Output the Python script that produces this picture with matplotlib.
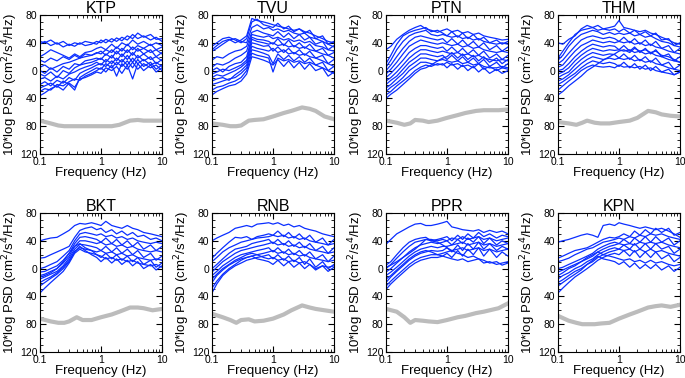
import numpy as np
import matplotlib
matplotlib.use('Agg')
import matplotlib.pyplot as plt
from matplotlib.ticker import FixedLocator, FuncFormatter, LogLocator, NullFormatter

plt.rcParams['font.family'] = ['Liberation Sans', 'DejaVu Sans']

stations = ['KTP', 'TVU', 'PTN', 'THM', 'BKT', 'RNB', 'PPR', 'KPN']

freq = [0.1, 0.12, 0.15, 0.19, 0.24, 0.3, 0.37, 0.45, 0.55, 0.7, 0.85, 1,
        1.2, 1.5, 1.8, 2.2, 2.7, 3.3, 4, 5, 6.5, 8, 10]
# frequencies (Hz) of the noise curve
noise_freq = [0.1, 0.15, 0.2, 0.25, 0.3, 0.4, 0.5, 0.7, 1, 1.5, 2, 3, 4, 5, 7, 10]

ktp = [
    [42, 40, 44, 38, 42, 36, 40, 38, 42, 40, 38, 44, 40, 46, 42, 48, 44, 52, 46, 50, 44, 48, 42],
    [38, 42, 36, 40, 34, 38, 35, 40, 36, 38, 42, 40, 45, 41, 47, 43, 50, 46, 54, 48, 52, 45, 46],
    [20, 24, 30, 26, 22, 18, 24, 20, 26, 28, 32, 34, 30, 38, 32, 40, 36, 44, 38, 42, 36, 40, 36],
    [15, 12, 18, 14, 20, 16, 22, 18, 24, 22, 26, 24, 30, 26, 34, 28, 38, 30, 36, 32, 38, 30, 34],
    [5, 8, 2, 6, 10, 12, 15, 18, 20, 22, 25, 28, 22, 30, 24, 32, 26, 34, 28, 32, 26, 30, 24],
    [0, -4, 4, -2, 6, 2, 10, 8, 14, 16, 18, 16, 24, 18, 28, 20, 30, 22, 32, 24, 30, 20, 26],
    [-5, -8, -2, -10, 0, -4, 4, 8, 10, 12, 15, 18, 12, 22, 14, 24, 16, 26, 18, 24, 16, 20, 14],
    [-12, -10, -15, -8, -12, -5, -2, 2, 5, 8, 12, 8, 16, 10, 18, 12, 22, 12, 22, 14, 20, 10, 16],
    [-20, -16, -22, -14, -18, -10, -14, -4, 0, 4, 8, 10, 6, 14, 8, 16, 8, 18, 10, 16, 8, 12, 6],
    [-25, -22, -18, -24, -15, -20, -28, -10, -5, 0, 4, 2, 10, 4, 12, 6, 14, 4, 16, 6, 12, 2, 8],
    [-30, -26, -28, -20, -22, -16, -12, -14, -8, -4, 0, 4, -2, 8, -8, 10, 2, 12, 2, 10, 4, 8, 0],
    [-36, -32, -26, -22, -28, -18, -24, -12, -10, -6, -2, -4, 4, 0, 6, -4, 8, -12, 10, 0, 8, -2, 4],
]
tvu = [
    [30, 36, 42, 45, 40, 44, 50, 75, 72, 70, 68, 66, 64, 62, 60, 58, 60, 56, 54, 50, 46, 42, 40],
    [35, 40, 46, 48, 44, 40, 46, 70, 74, 66, 64, 62, 68, 60, 64, 56, 60, 54, 58, 46, 50, 38, 42],
    [28, 32, 38, 44, 46, 42, 40, 62, 66, 60, 62, 58, 60, 56, 58, 54, 52, 54, 48, 46, 42, 38, 34],
    [15, 20, 18, 24, 28, 30, 35, 55, 58, 54, 52, 50, 56, 48, 54, 46, 52, 44, 48, 38, 42, 30, 36],
    [5, 10, 8, 12, 18, 22, 28, 52, 50, 48, 50, 46, 48, 44, 46, 42, 44, 40, 42, 36, 34, 30, 28],
    [0, 4, -2, 6, 10, 12, 20, 48, 45, 44, 42, 38, 46, 36, 44, 34, 40, 32, 38, 28, 32, 22, 26],
    [-5, -2, 2, 0, 4, 8, 15, 45, 42, 40, 38, 40, 36, 38, 34, 36, 32, 34, 30, 28, 24, 22, 18],
    [-10, -6, -8, -4, 0, 5, 12, 40, 38, 35, 36, 28, 34, 26, 32, 24, 30, 22, 28, 18, 22, 10, 16],
    [-15, -12, -10, -14, -6, 0, 8, 35, 32, 30, 28, 32, 26, 30, 24, 26, 22, 24, 20, 18, 14, 10, 6],
    [-20, -18, -15, -12, -10, -4, 4, 30, 28, 25, 22, 10, 24, 16, 22, 14, 20, 12, 18, 8, 12, 0, 6],
    [-28, -24, -22, -18, -15, -10, 0, 25, 22, 20, 18, -2, 18, 14, 16, 12, 14, 10, 12, 8, 4, 0, -4],
    [-35, -30, -26, -22, -20, -15, -5, 20, 18, 15, 12, 8, 16, 6, 14, 4, 12, 2, 10, 0, 4, -8, -2],
]
ptn = [
    [30, 35, 45, 52, 58, 62, 65, 60, 58, 55, 58, 60, 56, 58, 54, 56, 52, 54, 50, 48, 46, 44, 45],
    [10, 22, 38, 50, 55, 58, 60, 62, 56, 58, 54, 50, 56, 48, 54, 46, 52, 44, 48, 40, 44, 38, 42],
    [5, 15, 30, 42, 50, 54, 56, 58, 52, 50, 52, 50, 48, 50, 46, 48, 44, 46, 42, 40, 38, 40, 38],
    [0, 8, 20, 32, 42, 48, 50, 48, 46, 44, 46, 40, 46, 38, 44, 36, 42, 34, 40, 30, 36, 28, 34],
    [-5, 2, 12, 24, 35, 40, 44, 42, 40, 38, 40, 38, 36, 38, 34, 36, 32, 34, 30, 28, 26, 28, 26],
    [-10, -4, 5, 15, 26, 32, 36, 36, 34, 32, 34, 28, 34, 26, 32, 24, 30, 22, 28, 18, 24, 16, 22],
    [-15, -10, -2, 8, 18, 25, 30, 30, 28, 26, 28, 26, 24, 26, 22, 24, 20, 22, 18, 16, 14, 16, 14],
    [-20, -14, -8, 2, 12, 18, 24, 24, 22, 20, 22, 16, 22, 14, 20, 12, 18, 10, 16, 6, 12, 4, 10],
    [-25, -20, -12, -4, 6, 12, 18, 18, 16, 14, 16, 14, 12, 14, 10, 12, 8, 10, 6, 4, 4, 6, 4],
    [-30, -24, -18, -10, 0, 6, 12, 12, 10, 8, 10, 4, 10, 2, 8, 0, 6, -2, 4, -4, 2, -4, 0],
    [-35, -30, -22, -15, -8, 0, 5, 8, 6, 10, 8, 12, 8, 10, 6, 8, 4, 10, 2, 6, 0, 4, 2],
    [-40, -34, -28, -20, -12, -4, 2, 4, 8, 14, 18, 20, 26, 18, 24, 16, 22, 14, 20, 12, 18, 10, 16],
]
thm = [
    [40, 38, 45, 50, 60, 65, 62, 58, 60, 62, 64, 72, 62, 60, 58, 56, 58, 54, 52, 48, 44, 40, 38],
    [18, 28, 40, 52, 58, 60, 62, 65, 60, 58, 60, 56, 60, 54, 58, 52, 56, 50, 54, 44, 46, 36, 40],
    [15, 22, 35, 45, 52, 55, 58, 56, 52, 55, 52, 54, 52, 54, 50, 52, 48, 50, 46, 42, 40, 36, 34],
    [10, 15, 25, 35, 44, 48, 50, 48, 46, 48, 46, 42, 48, 40, 46, 38, 44, 36, 42, 32, 36, 26, 32],
    [5, 8, 18, 28, 36, 40, 44, 42, 40, 42, 40, 42, 40, 42, 38, 40, 36, 38, 34, 32, 28, 26, 24],
    [0, 2, 10, 20, 28, 34, 38, 36, 34, 36, 35, 30, 36, 28, 34, 26, 32, 24, 30, 20, 24, 14, 20],
    [-5, -2, 4, 14, 22, 28, 32, 30, 28, 30, 29, 30, 28, 30, 26, 28, 24, 26, 22, 20, 16, 14, 12],
    [-10, -6, -2, 8, 16, 22, 26, 24, 22, 24, 23, 18, 24, 16, 22, 14, 20, 12, 18, 8, 12, 2, 8],
    [-15, -12, -6, 2, 10, 16, 20, 18, 16, 18, 16, 18, 16, 18, 14, 16, 12, 14, 10, 8, 4, 2, 0],
    [-20, -16, -10, -4, 4, 10, 14, 12, 10, 12, 10, 6, 12, 4, 10, 2, 8, 0, 6, -2, 2, -6, -2],
    [-28, -22, -15, -8, 0, 5, 8, 6, 5, 6, 4, 8, 5, 6, 4, 6, 2, 4, 0, -2, -4, -6, -2],
    [-35, -30, -22, -15, -8, 0, 5, 10, 15, 20, 24, 28, 30, 26, 32, 28, 30, 26, 28, 22, 20, 16, 12],
]
bkt = [
    [40, 42, 44, 45, 50, 55, 62, 65, 64, 66, 64, 62, 68, 62, 60, 58, 62, 58, 56, 52, 50, 48, 46],
    [15, 16, 20, 24, 28, 32, 45, 55, 58, 60, 56, 58, 52, 56, 50, 54, 48, 52, 46, 48, 42, 44, 40],
    [0, 2, 6, 10, 18, 26, 40, 50, 52, 50, 48, 50, 46, 48, 44, 46, 42, 44, 40, 38, 36, 38, 36],
    [-5, -4, 0, 4, 12, 22, 36, 45, 46, 44, 42, 38, 44, 36, 42, 34, 40, 32, 38, 28, 34, 26, 32],
    [-10, -8, -4, 0, 8, 18, 32, 40, 40, 38, 36, 38, 34, 36, 32, 34, 30, 32, 28, 26, 24, 26, 24],
    [-15, -12, -8, -4, 4, 15, 28, 35, 34, 32, 30, 26, 32, 24, 30, 22, 28, 20, 26, 16, 22, 12, 18],
    [-20, -16, -12, -6, 2, 12, 25, 30, 28, 26, 24, 26, 22, 24, 20, 22, 18, 20, 16, 14, 12, 14, 12],
    [-35, -28, -20, -12, -4, 8, 22, 28, 24, 22, 20, 16, 22, 14, 20, 12, 18, 10, 16, 6, 12, 2, 8],
    [-12, -10, -6, 0, 10, 22, 32, 36, 30, 26, 20, 18, 14, 16, 12, 14, 10, 12, 8, 6, 4, 6, 2],
    [-25, -20, -14, -8, 0, 10, 24, 32, 26, 20, 16, 10, 16, 8, 14, 6, 12, 4, 10, 0, 6, -2, 4],
]
rnb = [
    [40, 44, 48, 52, 58, 60, 62, 60, 64, 65, 66, 64, 66, 62, 64, 60, 62, 58, 56, 54, 50, 48, 46],
    [15, 22, 30, 38, 45, 44, 46, 42, 46, 48, 50, 48, 54, 46, 52, 44, 50, 42, 48, 38, 44, 34, 42],
    [10, 16, 24, 30, 34, 38, 40, 42, 44, 45, 46, 48, 46, 48, 44, 46, 42, 44, 40, 38, 36, 34, 36],
    [0, 6, 14, 22, 28, 30, 32, 36, 38, 40, 42, 36, 42, 34, 40, 32, 38, 30, 36, 26, 32, 22, 30],
    [-5, 2, 10, 16, 22, 26, 28, 30, 32, 34, 36, 38, 34, 36, 32, 34, 30, 32, 28, 26, 24, 22, 24],
    [-10, -4, 4, 10, 16, 20, 22, 24, 26, 28, 30, 24, 30, 22, 28, 20, 26, 18, 24, 14, 20, 10, 18],
    [-20, -10, -2, 5, 10, 14, 16, 18, 20, 22, 24, 26, 22, 24, 20, 22, 18, 20, 16, 14, 12, 10, 12],
    [-35, -22, -10, -2, 4, 8, 12, 14, 16, 18, 20, 14, 20, 12, 18, 10, 16, 6, 14, 2, 10, 0, 6],
    [-15, -8, 0, 6, 12, 16, 20, 22, 20, 16, 14, 16, 12, 14, 10, 12, 8, 10, 6, 0, 4, 2, 4],
    [-28, -18, -8, 0, 6, 12, 16, 18, 14, 12, 10, 6, 12, 4, 10, 2, 8, 0, 6, -2, 4, -4, 2],
]
ppr = [
    [35, 42, 50, 55, 60, 64, 65, 62, 62, 64, 66, 68, 60, 58, 56, 55, 54, 56, 52, 55, 52, 54, 50],
    [5, 10, 20, 30, 38, 42, 44, 45, 40, 42, 44, 46, 40, 48, 42, 50, 44, 52, 46, 50, 44, 48, 46],
    [0, 6, 15, 24, 32, 38, 40, 42, 42, 40, 42, 40, 44, 42, 46, 42, 44, 46, 42, 44, 40, 42, 44],
    [-5, 0, 8, 16, 24, 30, 34, 36, 38, 36, 38, 40, 34, 42, 36, 44, 38, 46, 36, 44, 34, 40, 36],
    [-10, -5, 2, 10, 18, 24, 28, 30, 32, 30, 32, 32, 34, 36, 38, 34, 36, 38, 34, 36, 32, 34, 36],
    [-20, -12, -4, 4, 12, 18, 22, 24, 26, 25, 26, 30, 24, 34, 26, 36, 28, 38, 28, 36, 26, 32, 28],
    [-25, -18, -10, -2, 6, 12, 16, 18, 20, 20, 22, 24, 26, 28, 30, 26, 28, 30, 26, 28, 24, 26, 28],
    [-30, -22, -14, -6, 2, 8, 12, 14, 16, 16, 18, 22, 16, 26, 18, 28, 20, 30, 18, 28, 16, 24, 18],
    [-15, -10, -2, 6, 14, 20, 24, 26, 24, 20, 18, 16, 14, 12, 14, 10, 12, 14, 8, 10, 6, 8, 10],
    [2, 5, 10, 16, 22, 28, 35, 42, 40, 38, 34, 30, 26, 22, 20, 16, 18, 14, 12, 8, 10, 5, 8],
]
kpn = [
    [38, 40, 42, 45, 48, 50, 48, 45, 62, 64, 62, 66, 64, 62, 60, 58, 60, 58, 56, 58, 54, 50, 45],
    [15, 18, 22, 26, 28, 30, 34, 38, 42, 45, 44, 46, 50, 46, 54, 48, 56, 50, 58, 52, 58, 48, 52],
    [10, 12, 15, 20, 24, 28, 30, 34, 38, 40, 42, 44, 42, 46, 44, 48, 46, 50, 48, 50, 46, 44, 42],
    [0, 2, 6, 10, 14, 18, 22, 28, 32, 36, 38, 36, 42, 36, 44, 38, 46, 38, 46, 38, 44, 34, 40],
    [-5, -2, 2, 6, 10, 14, 18, 24, 28, 32, 34, 36, 34, 36, 34, 38, 36, 38, 36, 38, 34, 32, 30],
    [-15, -10, -6, 0, 4, 10, 14, 20, 24, 28, 30, 28, 34, 28, 36, 28, 36, 28, 36, 28, 32, 22, 28],
    [-20, -16, -10, -4, 0, 6, 10, 16, 20, 24, 26, 28, 26, 28, 24, 28, 24, 28, 24, 26, 22, 20, 18],
    [-35, -28, -20, -12, -6, 0, 6, 12, 16, 20, 22, 20, 26, 18, 26, 16, 24, 16, 24, 14, 20, 10, 16],
    [-10, -6, 0, 4, 10, 16, 20, 24, 20, 18, 16, 14, 12, 14, 10, 12, 8, 12, 8, 10, 6, 4, 6],
    [-25, -20, -14, -8, -2, 6, 12, 18, 14, 12, 10, 6, 10, 2, 8, 0, 6, 0, 6, -2, 4, -4, 2],
]
spectra = [ktp, tvu, ptn, thm, bkt, rnb, ppr, kpn]

noise = [
    [-72, -76, -79, -80, -80, -80, -80, -80, -80, -80, -78, -72, -71, -72, -72, -72],
    [-76, -78, -80, -80, -79, -72, -71, -70, -66, -61, -58, -53, -55, -58, -66, -70],
    [-72, -75, -78, -76, -71, -72, -74, -72, -68, -64, -61, -58, -57, -57, -57, -56],
    [-74, -76, -78, -75, -72, -75, -76, -76, -74, -72, -68, -58, -60, -63, -65, -66],
    [-72, -76, -78, -78, -76, -70, -74, -74, -70, -66, -62, -56, -56, -57, -60, -58],
    [-65, -70, -74, -78, -74, -73, -76, -75, -72, -66, -60, -53, -56, -58, -60, -62],
    [-58, -62, -70, -78, -74, -75, -76, -77, -74, -70, -68, -64, -62, -60, -57, -50],
    [-68, -75, -78, -80, -80, -80, -79, -78, -72, -66, -62, -56, -54, -53, -55, -52],
]

fig = plt.figure(figsize=(6.85, 3.78), dpi=100)
W, H = 685.0, 378.0
lefts = [40, 212, 386, 558]
tops = [15, 213]

for i, name in enumerate(stations):
    row, col = divmod(i, 4)
    ax = fig.add_axes([lefts[col] / W, 1 - (tops[row] + 139) / H, 122 / W, 139 / H])
    for curve in spectra[i]:
        ax.plot(freq, curve, color='#0a2eff', lw=0.9)
    ax.plot(noise_freq, noise[i], color='#bcbcbc', lw=3)

    ax.set_xscale('log')
    ax.set_xlim(0.1, 10)
    ax.set_ylim(-120, 80)
    ax.set_xticks([0.1, 1, 10])
    ax.set_xticklabels(['0.1', '1', '10'])
    ax.xaxis.set_minor_locator(LogLocator(subs=np.arange(2, 10)))
    ax.xaxis.set_minor_formatter(NullFormatter())
    ax.yaxis.set_major_locator(FixedLocator([-120, -80, -40, 0, 40, 80]))
    ax.yaxis.set_minor_locator(FixedLocator(np.arange(-120, 81, 10)))
    # the published figure prints the magnitudes without minus signs
    ax.yaxis.set_major_formatter(FuncFormatter(lambda v, p: '%d' % abs(v)))
    ax.tick_params(which='both', direction='in', top=True, right=True, labelsize=7.5, pad=2)
    ax.tick_params(which='major', length=4)
    ax.tick_params(which='minor', length=2)
    ax.text(0.5, 1 + 2.0 / 139, name, transform=ax.transAxes, ha='center',
            va='baseline', fontsize=11.5)
    ax.set_xlabel('Frequency (Hz)', fontsize=9.5, labelpad=0)
    ax.set_ylabel('10*log PSD (cm$^2$/s$^4$/Hz)', fontsize=9.5, labelpad=0)

fig.savefig('out.png', dpi=100)
